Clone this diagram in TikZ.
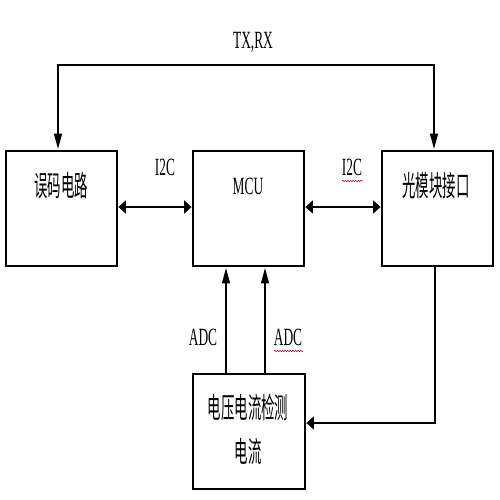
\documentclass[tikz,border=0pt]{standalone}
\usepackage{fontspec}
\usepackage{graphicx}
\setmainfont{Liberation Serif}
\newfontfamily\cjk{Noto Sans CJK SC}
\usetikzlibrary{arrows.meta,decorations.pathmorphing}
\newcommand\vst[1]{\scalebox{1}[1.85]{#1}}
\newcommand\vsc[1]{\scalebox{1}[2.15]{\cjk #1}}
\begin{document}
\begin{tikzpicture}[x=1pt,y=1pt,
  box/.style={draw,line width=2.8pt,minimum width=111pt,minimum height=115pt,inner sep=0pt},
  lbl/.style={inner sep=0pt,font=\fontsize{13.4}{16}\selectfont},
  vconn/.style={line width=2.6pt,-{Triangle[length=16pt,width=7.5pt]}},
  hconn/.style={line width=2.8pt,-{Triangle[length=7.5pt,width=13pt]}},
  hbconn/.style={line width=2.8pt,{Triangle[length=7.5pt,width=13pt]}-{Triangle[length=7.5pt,width=13pt]}},
  vbconn/.style={line width=2.6pt,{Triangle[length=16pt,width=7.5pt]}-{Triangle[length=16pt,width=7.5pt]}},
  squig/.style={red!70!black,line width=0.5pt,decorate,decoration={snake,amplitude=0.8pt,segment length=2.6pt}}]
\useasboundingbox (0,0) rectangle (500,500);
\fill[white] (0,0) rectangle (500,500);
% boxes
\node[box] (e1) at (61.5,291.5) {};
\node[box] (mcu) at (248.5,291.5) {};
\node[box] (om) at (437.5,291.5) {};
\node[box,minimum width=112pt] (bot) at (249,68.5) {};
% box texts
\node[lbl] (t1) at (61,314) {\vsc{误码电路}};
\node[lbl] (t2) at (248,314) {\vst{MCU}};
\node[lbl] (t3) at (436,314) {\vsc{光模块接口}};
\node[lbl] (t4) at (248,93) {\vsc{电压电流检测}};
\node[lbl] (t5) at (248,48) {\vsc{电流}};
% connector labels
\node[lbl] (txrx) at (253,458) {\vst{TX,RX}};
\node[lbl] (i2cL) at (165,333) {\vst{I2C}};
\node[lbl] (i2cR) at (352,333) {\vst{I2C}};
\node[lbl] (adcL) at (203,163) {\vst{ADC}};
\node[lbl] (adcR) at (288,163) {\vst{ADC}};
% connectors
\coordinate (top) at (58,435);
\draw[vbconn] ([xshift=-3.5pt]e1.north) |- (top) -| ([xshift=-3.5pt]om.north);
\draw[hbconn] ([yshift=1.5pt]e1.east) -- ([yshift=1.5pt]mcu.west);
\draw[hbconn] ([yshift=1.5pt]mcu.east) -- ([yshift=1.5pt]om.west);
\draw[vconn] ([xshift=-23pt]bot.north) -- ([xshift=-23pt]bot.north |- mcu.south);
\draw[vconn] ([xshift=16pt]bot.north) -- ([xshift=16pt]bot.north |- mcu.south);
\draw[hconn] ([xshift=-2.5pt]om.south) |- ([yshift=8.5pt]bot.east);
% spell-check marks
\draw[squig] ([xshift=-10pt,yshift=-14pt]i2cR.center) -- ([xshift=11pt,yshift=-14pt]i2cR.center);
\draw[squig] ([xshift=-14pt,yshift=-14pt]adcR.center) -- ([xshift=15pt,yshift=-14pt]adcR.center);
\end{tikzpicture}
\end{document}
